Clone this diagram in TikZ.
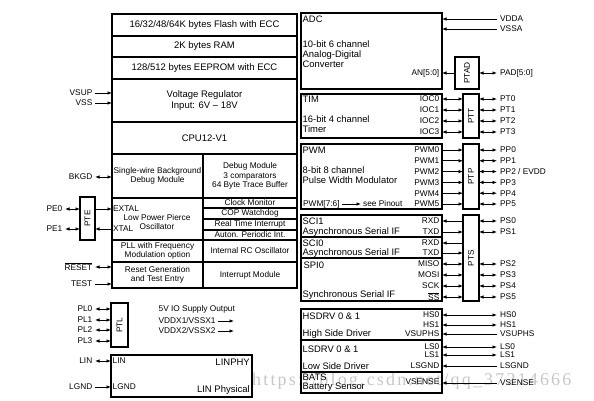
\documentclass[tikz,border=0pt]{standalone}
\usepackage{graphicx}
\usepackage{fontspec}
\setmainfont{Liberation Sans}
\newfontfamily\wmfont[LetterSpace=12]{Liberation Serif}
\usetikzlibrary{arrows.meta}
\newcommand\fsa{\fontsize{9.5}{10.5}\selectfont}
\newcommand\fsm{\fontsize{9.4}{10.2}\selectfont}
\newcommand\fsb{\fontsize{8.3}{9.4}\selectfont}
\newcommand\mkbox[7][]{\node[box,minimum width={(#5-#3)*1pt},minimum height={(#6-#4)*1pt},#1] (#2) at ({(#3+#5)/2},{(#4+#6)/2}) {#7};}
\begin{document}
\begin{tikzpicture}[x=1pt,y=-1pt,
  box/.style={draw,line width=1.4pt,inner sep=0pt,outer sep=0pt,align=center,font=\fsb},
  lbl/.style={inner sep=2.5pt,font=\fsb},
  pinL/.style={lbl,anchor=east},
  pinR/.style={lbl,anchor=west,inner sep=3pt},
  inl/.style={inner sep=1.5pt,anchor=west,align=left,font=\fsm},
  inr/.style={inner sep=2.5pt,anchor=east,font=\fsb},
  arr/.style={line width=0.8pt,-{Latex[length=4.5pt,width=3.6pt]}},
  darr/.style={line width=0.8pt,{Latex[length=4.5pt,width=3.6pt]}-{Latex[length=4.5pt,width=3.6pt]}}
]
\useasboundingbox (0,0) rectangle (594,401);
% watermark
\node[text=black!22,font=\wmfont\fontsize{18}{18}\selectfont,anchor=west,inner sep=0pt] (wm) at (252,381) {https://blog.csdn.net/qq\_37214666};

% ---------- left block ----------
\mkbox[font=\fsa]{flash}{112}{14}{297}{36}{16/32/48/64K bytes Flash with ECC}
\mkbox[font=\fsa]{ram}{112}{36}{297}{57}{2K bytes RAM}
\mkbox[font=\fsa]{eeprom}{112}{57}{297}{79}{128/512 bytes EEPROM with ECC}
\mkbox[font=\fsa]{vreg}{112}{79}{297}{122}{Voltage Regulator\\Input: 6V – 18V}
\mkbox[font=\fsa]{cpu}{112}{122}{297}{154}{CPU12-V1}
\mkbox{bdm}{112}{154}{203}{198}{Single-wire Background\\Debug Module}
\mkbox{dbg}{203}{154}{297}{198}{Debug Module\\3 comparators\\64 Byte Trace Buffer}
\mkbox{osc}{112}{198}{203}{240}{}
\mkbox{clkm}{203}{198}{297}{208}{Clock Monitor}
\mkbox{cop}{203}{208}{297}{219}{COP Watchdog}
\mkbox{rti}{203}{219}{297}{230}{Real Time Interrupt}
\mkbox{api}{203}{230}{297}{240}{Auton. Periodic Int.}
\mkbox{pll}{112}{240}{203}{262}{PLL with Frequency\\Modulation option}
\mkbox{irc}{203}{240}{297}{262}{Internal RC Oscillator}
\mkbox{rst}{112}{262}{203}{288}{Reset Generation\\and Test Entry}
\mkbox{intm}{203}{262}{297}{288}{Interrupt Module}
\node[font=\fsb,align=center,inner sep=0pt] (osct) at (157,222) {Low Power Pierce\\Oscillator};
\node[inl,font=\fsb,inner sep=1pt] (extal) at (112,209) {EXTAL};
\node[inl,font=\fsb,inner sep=1pt] (xtal) at (112,229) {XTAL};

% PTE
\mkbox{pte}{80}{197}{95}{240}{\rotatebox{90}{PTE}}

% left pins
\node[pinL] (vsupl) at (95,93) {VSUP};
\node[pinL] (vssl) at (95,103) {VSS};
\node[pinL] (bkgdl) at (95,177) {BKGD};
\node[pinL] (pe0l) at (65,209) {PE0};
\node[pinL] (pe1l) at (65,229) {PE1};
\node[pinL] (rstl) at (95,267) {$\overline{\mbox{\fsb RESET}}$};
\node[pinL] (testl) at (95,284) {TEST};
\draw[arr] (vsupl.east) -- (vreg.west |- vsupl.east);
\draw[arr] (vssl.east) -- (vreg.west |- vssl.east);
\draw[darr] (bkgdl.east) -- (bdm.west |- bkgdl.east);
\draw[darr] (pe0l.east) -- (pte.west |- pe0l.east);
\draw[darr] (pe1l.east) -- (pte.west |- pe1l.east);
\draw[arr] (pte.east |- extal.west) -- (extal.west);
\draw[arr] (xtal.west) -- (pte.east |- xtal.west);
\draw[darr] (rstl.east) -- (rst.west |- rstl.east);
\draw[arr] (testl.east) -- (rst.west |- testl.east);

% PTL
\mkbox{ptl}{111}{303}{128}{347}{\rotatebox{90}{PTL}}
\foreach \i/\y in {0/309,1/320,2/330,3/341}{
  \node[pinL] (pinpl\i) at (95,\y) {PL\i};
  \draw[darr] (pinpl\i.east) -- (ptl.west |- pinpl\i.east);
}
\node[lbl,anchor=west] (supply) at (156,309) {5V IO Supply Output};
\node[lbl,anchor=west] (vddx1) at (156,321) {VDDX1/VSSX1};
\node[lbl,anchor=west] (vddx2) at (156,331) {VDDX2/VSSX2};
\coordinate (vx1e) at (234,321);
\coordinate (vx2e) at (234,331);
\draw[arr] (vddx1.east) -- (vx1e);
\draw[arr] (vddx2.east) -- (vx2e);

% LIN
\mkbox{lin}{111}{355}{252}{397}{}
\node[inl,font=\fsb] (linin) at (111,361) {LIN};
\node[inl,font=\fsb] (lgndin) at (111,387) {LGND};
\node[inr,font=\fsa,inner sep=2pt] (linphy) at (252,362) {LINPHY};
\node[inr,font=\fsa,inner sep=2pt] (linphys) at (252,390) {LIN Physical};
\node[pinL] (linl) at (95,361) {LIN};
\node[pinL] (lgndl) at (95,387) {LGND};
\draw[darr] (linl.east) -- (lin.west |- linl.east);
\draw[arr] (lgndl.east) -- (lin.west |- lgndl.east);

% ---------- right side ----------
% ADC
\mkbox{adc}{301}{13}{442}{89}{}
\node[inl] (adct) at (301,19) {ADC};
\node[inl] (adcd) at (301,54) {10-bit 6 channel\\Analog-Digital\\Converter};
\node[inr] (an) at (442,73) {AN[5:0]};
\mkbox{ptad}{455}{57}{479}{89}{\rotatebox{90}{PTAD}}
\draw[arr] (ptad.west |- an.east) -- (an.east);
\node[pinR] (padl) at (497,73) {PAD[5:0]};
\draw[darr] (ptad.east |- padl.west) -- (padl.west);
\node[pinR] (vddal) at (497,19) {VDDA};
\node[pinR] (vssal) at (497,29) {VSSA};
\draw[arr] (vddal.west) -- (adc.east |- vddal.west);
\draw[arr] (vssal.west) -- (adc.east |- vssal.west);

% TIM
\mkbox{tim}{301}{94}{442}{138}{}
\node[inl] (timt) at (301,99) {TIM};
\node[inl] (timd) at (301,124) {16-bit 4 channel\\Timer};
\mkbox{ptt}{463}{94}{479}{138}{\rotatebox{90}{PTT}}
\foreach \i/\y in {0/99,1/110,2/121,3/132}{
  \node[inr] (ioc\i) at (442,\y) {IOC\i};
  \node[pinR] (pinpt\i) at (497,\y) {PT\i};
  \draw[darr] (ioc\i.east) -- (ptt.west |- ioc\i.east);
  \draw[darr] (ptt.east |- pinpt\i.west) -- (pinpt\i.west);
}

% PWM
\mkbox{pwm}{301}{144}{442}{209}{}
\node[inl] (pwmt) at (301,150) {PWM};
\node[inl] (pwmd) at (301,175) {8-bit 8 channel\\Pulse Width Modulator};
\node[inl,font=\fsb,inner sep=2pt] (pwm76) at (301,204) {PWM[7:6]};
\node[inl,font=\fsb,inner sep=2pt] (seep) at (361,204) {see Pinout};
\draw[arr] (pwm76.east) -- (seep.west);
\mkbox{ptp}{463}{144}{479}{209}{\rotatebox{90}{PTP}}
\foreach \i/\y/\t in {0/150/PP0,1/160.8/PP1,2/171.6/{PP2 / EVDD},3/182.4/PP3,4/193.2/PP4,5/204/PP5}{
  \node[inr] (pwm\i) at (442,\y) {PWM\i};
  \node[pinR] (pinpp\i) at (497,\y) {\t};
  \draw[arr] (pwm\i.east) -- (ptp.west |- pwm\i.east);
  \draw[darr] (ptp.east |- pinpp\i.west) -- (pinpp\i.west);
}

% SCI / SPI
\mkbox{sci1}{301}{215}{442}{237}{}
\node[inl] (sci1t) at (301,221) {SCI1};
\node[inl] (sci1d) at (301,232) {Asynchronous Serial IF};
\mkbox{sci0}{301}{237}{442}{258}{}
\node[inl] (sci0t) at (301,243) {SCI0};
\node[inl] (sci0d) at (301,253) {Asynchronous Serial IF};
\mkbox{spi}{301}{258}{442}{301}{}
\node[inl] (spit) at (302,265) {SPI0};
\node[inl] (spid) at (301,295) {Synchronous Serial IF};
\mkbox{pts}{463}{215}{479}{301}{\rotatebox{90}{PTS}}
\node[inr] (rxd1) at (442,221) {RXD};
\node[inr] (txd1) at (442,232) {TXD};
\node[inr] (rxd0) at (442,243) {RXD};
\node[inr] (txd0) at (442,253) {TXD};
\node[inr] (miso) at (442,264) {MISO};
\node[inr] (mosi) at (442,275) {MOSI};
\node[inr] (sck) at (442,286) {SCK};
\node[inr] (ss) at (442,297) {$\overline{\mbox{\fsb SS}}$};
\draw[arr] (pts.west |- rxd1.east) -- (rxd1.east);
\draw[arr] (txd1.east) -- (pts.west |- txd1.east);
\draw[arr] (pts.west |- rxd0.east) -- (rxd0.east);
\draw[arr] (txd0.east) -- (pts.west |- txd0.east);
\draw[darr] (miso.east) -- (pts.west |- miso.east);
\draw[darr] (mosi.east) -- (pts.west |- mosi.east);
\draw[darr] (sck.east) -- (pts.west |- sck.east);
\draw[darr] (ss.east) -- (pts.west |- ss.east);
\foreach \i/\y in {0/221,1/232,2/264,3/275,4/286,5/297}{
  \node[pinR] (pinps\i) at (497,\y) {PS\i};
  \draw[darr] (pts.east |- pinps\i.west) -- (pinps\i.west);
}

% HSDRV / LSDRV / BATS
\mkbox{hs}{301}{309}{442}{340}{}
\node[inl] (hst) at (301,316) {HSDRV 0 \& 1};
\node[inl] (hsd) at (301,334) {High Side Driver};
\node[inr] (hs0) at (442,315) {HS0};
\node[inr] (hs1) at (442,325) {HS1};
\node[inr] (vsuphs) at (442,334) {VSUPHS};
\mkbox{ls}{301}{340}{442}{372}{}
\node[inl] (lst) at (301,349) {LSDRV 0 \& 1};
\node[inl] (lsd) at (301,366) {Low Side Driver};
\node[inr] (ls0) at (442,347) {LS0};
\node[inr] (ls1) at (442,355) {LS1};
\node[inr] (lsgnd) at (442,366) {LSGND};
\mkbox{bats}{301}{372}{442}{393}{}
\node[inl] (batst) at (301,377) {BATS};
\node[inl] (batsd) at (301,387) {Battery Sensor};
\node[inr] (vsense) at (442,382) {VSENSE};

\node[pinR] (hs0l) at (497,315) {HS0};
\node[pinR] (hs1l) at (497,325) {HS1};
\node[pinR] (vsuphsl) at (497,334) {VSUPHS};
\node[pinR] (ls0l) at (497,347) {LS0};
\node[pinR] (ls1l) at (497,355) {LS1};
\node[pinR] (lsgndl) at (497,366) {LSGND};
\node[pinR] (vsensel) at (497,383) {VSENSE};
\draw[darr] (hs0.east) -- (hs0l.west |- hs0.east);
\draw[darr] (hs1.east) -- (hs1l.west |- hs1.east);
\draw[arr] (vsuphsl.west) -- (vsuphs.east |- vsuphsl.west);
\draw[darr] (ls0.east) -- (ls0l.west |- ls0.east);
\draw[darr] (ls1.east) -- (ls1l.west |- ls1.east);
\draw[arr] (lsgndl.west) -- (lsgnd.east |- lsgndl.west);
\draw[arr] (vsensel.west) -- (vsense.east |- vsensel.west);
\end{tikzpicture}
\end{document}
